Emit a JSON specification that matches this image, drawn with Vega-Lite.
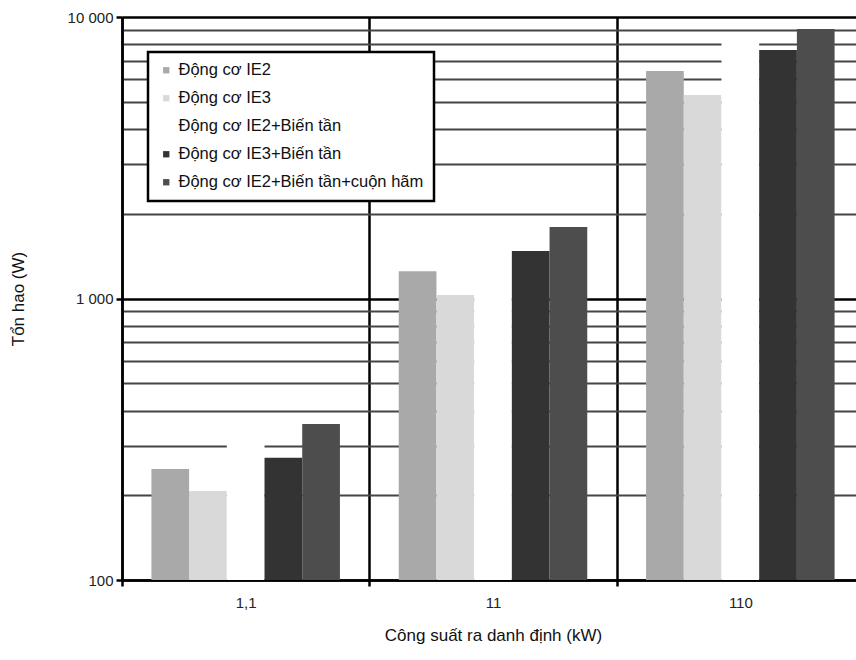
{
  "$schema": "https://vega.github.io/schema/vega-lite/v6.json",
  "autosize": {"type": "none"},
  "padding": {"left": 122, "top": 17, "right": 0, "bottom": 80},
  "width": 742,
  "height": 563,
  "background": "white",
  "config": {
    "font": "Liberation Sans",
    "view": {"stroke": null},
    "axis": {"labelFontSize": 15}
  },
  "data": {
    "values": [
      {"p": "1,1", "s": "Động cơ IE2", "v": 248},
      {"p": "1,1", "s": "Động cơ IE3", "v": 207},
      {"p": "1,1", "s": "Động cơ IE2+Biến tần", "v": 340},
      {"p": "1,1", "s": "Động cơ IE3+Biến tần", "v": 272},
      {"p": "1,1", "s": "Động cơ IE2+Biến tần+cuộn hãm", "v": 358},
      {"p": "11", "s": "Động cơ IE2", "v": 1250},
      {"p": "11", "s": "Động cơ IE3", "v": 1030},
      {"p": "11", "s": "Động cơ IE2+Biến tần", "v": 1600},
      {"p": "11", "s": "Động cơ IE3+Biến tần", "v": 1475},
      {"p": "11", "s": "Động cơ IE2+Biến tần+cuộn hãm", "v": 1795},
      {"p": "110", "s": "Động cơ IE2", "v": 6430},
      {"p": "110", "s": "Động cơ IE3", "v": 5280},
      {"p": "110", "s": "Động cơ IE2+Biến tần", "v": 8500},
      {"p": "110", "s": "Động cơ IE3+Biến tần", "v": 7630},
      {"p": "110", "s": "Động cơ IE2+Biến tần+cuộn hãm", "v": 9060}
    ]
  },
  "mark": {"type": "bar"},
  "encoding": {
    "x": {
      "field": "p",
      "type": "nominal",
      "sort": ["1,1", "11", "110"],
      "scale": {"paddingInner": 0, "paddingOuter": 0},
      "axis": {
        "title": "Công suất ra danh định (kW)",
        "titleFontSize": 17,
        "titleFontWeight": "normal",
        "titleColor": "#111",
        "titlePadding": 17,
        "labelAngle": 0,
        "labelFontSize": 15,
        "labelColor": "#222",
        "labelPadding": 9,
        "tickBand": "extent",
        "tickSize": 6,
        "tickWidth": 2.5,
        "tickColor": "black",
        "domainColor": "black",
        "domainWidth": 2.5,
        "grid": true,
        "gridColor": "black",
        "gridWidth": 2.5,
        "gridOpacity": 1
      }
    },
    "xOffset": {
      "field": "s",
      "type": "nominal",
      "sort": ["Động cơ IE2", "Động cơ IE3", "Động cơ IE2+Biến tần", "Động cơ IE3+Biến tần", "Động cơ IE2+Biến tần+cuộn hãm"],
      "scale": {"paddingInner": 0, "paddingOuter": 0.78}
    },
    "y": {
      "field": "v",
      "type": "quantitative",
      "stack": null,
      "scale": {"type": "log", "domain": [100, 10000], "nice": false},
      "axis": {
        "title": "Tổn hao (W)",
        "titleFontSize": 17,
        "titleFontWeight": "normal",
        "titleColor": "#111",
        "titlePadding": 40,
        "values": [100, 200, 300, 400, 500, 600, 700, 800, 900, 1000, 2000, 3000, 4000, 5000, 6000, 7000, 8000, 9000, 10000],
        "labelExpr": "datum.value == 10000 ? '10 000' : datum.value == 1000 ? '1 000' : datum.value == 100 ? '100' : ''",
        "labelFontSize": 15,
        "labelColor": "#222",
        "labelPadding": 3,
        "domainColor": "black",
        "domainWidth": 2.5,
        "tickSize": 6,
        "tickWidth": 2.5,
        "tickColor": {"condition": {"test": "datum.value == 100 || datum.value == 1000 || datum.value == 10000", "value": "black"}, "value": "transparent"},
        "grid": true,
        "gridColor": {"condition": {"test": "datum.value == 100 || datum.value == 1000 || datum.value == 10000", "value": "black"}, "value": "#454545"},
        "gridWidth": {"condition": {"test": "datum.value == 100 || datum.value == 1000 || datum.value == 10000", "value": 2.5}, "value": 1.8},
        "gridOpacity": 1
      }
    },
    "color": {
      "field": "s",
      "type": "nominal",
      "scale": {
        "domain": ["Động cơ IE2", "Động cơ IE3", "Động cơ IE2+Biến tần", "Động cơ IE3+Biến tần", "Động cơ IE2+Biến tần+cuộn hãm"],
        "range": ["#a9a9a9", "#d9d9d9", "#ffffff", "#333333", "#4d4d4d"]
      },
      "legend": {
        "title": null,
        "orient": "none",
        "legendX": 26,
        "legendY": 35,
        "symbolType": "square",
        "symbolSize": 40,
        "symbolStrokeWidth": 0,
        "labelFontSize": 16.5,
        "labelColor": "#111",
        "labelLimit": 400,
        "rowPadding": 11,
        "padding": 10,
        "fillColor": "white",
        "strokeColor": "black",
        "labelOffset": 4,
        "encode": {"legend": {"update": {"strokeWidth": {"value": 2.5}}}}
      }
    }
  }
}
